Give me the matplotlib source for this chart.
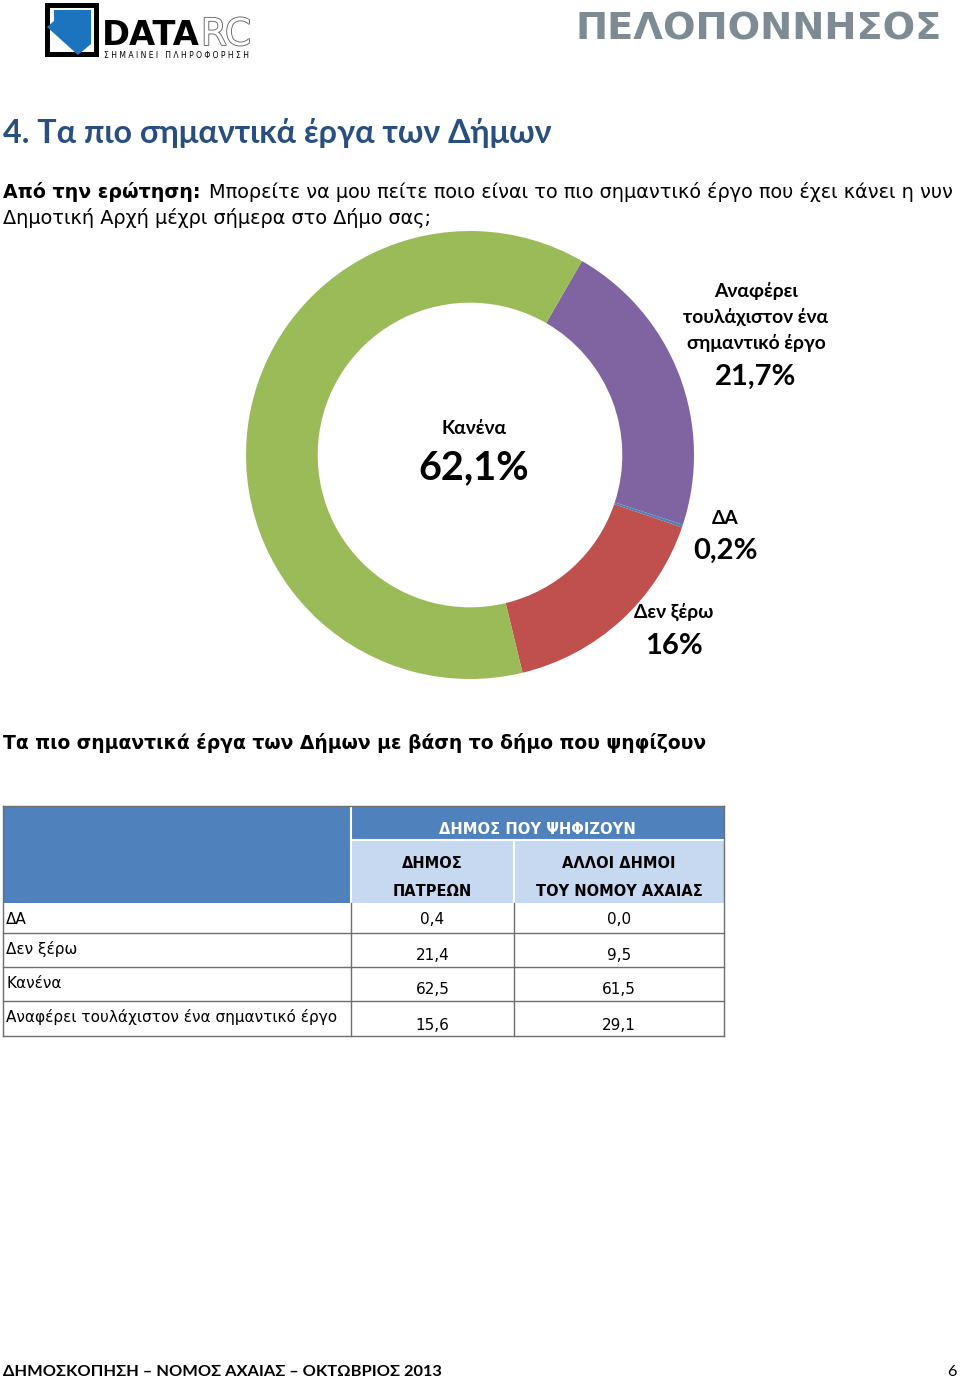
import matplotlib
matplotlib.use("Agg")
import matplotlib.pyplot as plt
import matplotlib.patheffects as pe
from matplotlib.patches import Rectangle, Polygon

# ---------------- data ----------------
donut_labels = ["Αναφέρει\nτουλάχιστον ένα\nσημαντικό έργο", "ΔΑ", "Δεν ξέρω", "Κανένα"]
donut_values = [21.7, 0.2, 16.0, 62.1]
donut_texts = ["21,7%", "0,2%", "16%", "62,1%"]
donut_colors = ["#8064A2", "#4F81BD", "#C0504D", "#9BBB59"]

table_rows = ["ΔΑ", "Δεν ξέρω", "Κανένα", "Αναφέρει τουλάχιστον ένα σημαντικό έργο"]
patras = [0.4, 21.4, 62.5, 15.6]
other_dimoi = [0.0, 9.5, 61.5, 29.1]
table_group = "ΔΗΜΟΣ ΠΟΥ ΨΗΦΙΖΟΥΝ"
table_cols = ["ΔΗΜΟΣ\nΠΑΤΡΕΩΝ", "ΑΛΛΟΙ ΔΗΜΟΙ\nΤΟΥ ΝΟΜΟΥ ΑΧΑΙΑΣ"]

title = "4. Τα πιο σημαντικά έργα των Δήμων"
q_bold = "Από την ερώτηση:"
q_line1 = "Μπορείτε να μου πείτε ποιο είναι το πιο σημαντικό έργο που έχει κάνει η νυν"
q_line2 = "Δημοτική Αρχή μέχρι σήμερα στο Δήμο σας;"
section = "Τα πιο σημαντικά έργα των Δήμων με βάση το δήμο που ψηφίζουν"
footer = "ΔΗΜΟΣΚΟΠΗΣΗ – ΝΟΜΟΣ ΑΧΑΙΑΣ – ΟΚΤΩΒΡΙΟΣ 2013"
page_no = "6"

W, H = 960, 1379
fig = plt.figure(figsize=(W / 100, H / 100), dpi=100)
fig.patch.set_facecolor("white")
ax = fig.add_axes([0, 0, 1, 1])
ax.set_xlim(0, W)
ax.set_ylim(H, 0)
ax.axis("off")
renderer = fig.canvas.get_renderer()

DV = ["DejaVu Sans"]
CAL = ["Lato", "DejaVu Sans"]


def width_px(t):
    return t.get_window_extent(renderer=renderer).width


def fit(t, target):
    """Scale the font size of a text so that its rendered width matches target px."""
    for _ in range(2):
        w = width_px(t)
        if w > 0:
            t.set_fontsize(t.get_fontsize() * target / w)
    return t


# ---------------- header / logo ----------------
ax.add_patch(Rectangle((45, 3), 54, 54, facecolor="black", edgecolor="none"))
ax.add_patch(Polygon([[50, 8], [94, 8], [94, 52], [50, 52]], closed=True,
                     facecolor="white", edgecolor="none"))
ax.add_patch(Polygon([[54, 10], [91, 10], [91, 44], [78, 55], [47, 27], [54, 21]],
                     closed=True, facecolor="#1C74BF", edgecolor="none"))
t = ax.text(102, 45, "DATA", family=DV, weight="bold", fontsize=24, color="black",
            va="baseline", ha="left")
fit(t, 98)
t = ax.text(201, 45, "RC", family=DV, fontsize=24, color="white", va="baseline", ha="left",
            path_effects=[pe.withStroke(linewidth=1.3, foreground="#666666")])
fit(t, 50)
t = ax.text(104, 58, "Σ Η Μ Α Ι Ν Ε Ι   Π Λ Η Ρ Ο Φ Ο Ρ Η Σ Η", family=DV, fontsize=5,
            color="black", va="baseline", ha="left")
fit(t, 146)
t = ax.text(942, 40, "ΠΕΛΟΠΟΝΝΗΣΟΣ", family=DV, weight="bold", fontsize=28,
            color="#7E8B92", va="baseline", ha="right")
fit(t, 367)

# ---------------- titles ----------------
t = ax.text(3, 143, title, family=CAL, weight="bold", fontsize=22, color="#284F80",
            va="baseline", ha="left")
fit(t, 548)
tb = ax.text(3, 198, q_bold, family=DV, weight="bold", fontsize=12.8, color="black",
             va="baseline", ha="left")
fit(tb, 197)
fs_q = tb.get_fontsize()
tr = ax.text(209, 198, q_line1, family=DV, fontsize=fs_q, color="black",
             va="baseline", ha="left")
fit(tr, 957 - 209)
ax.text(3, 224, q_line2, family=DV, fontsize=tr.get_fontsize(), color="black",
        va="baseline", ha="left")

# ---------------- donut ----------------
cx, cy, R = 470, 455, 224
ax2 = fig.add_axes([(cx - R) / W, (H - (cy + R)) / H, 2 * R / W, 2 * R / H])
ax2.pie(donut_values, colors=donut_colors, startangle=60, counterclock=False,
        wedgeprops=dict(width=0.32, linewidth=0))
ax2.set_xlim(-1, 1)
ax2.set_ylim(-1, 1)
ax2.set_aspect("equal")
ax2.axis("off")

lab_pos = [(756, 291, 377), (725, 518, 551), (674, 612, 646), (474, 428, 468)]
for i, (lx, ly, py) in enumerate(lab_pos):
    lines = donut_labels[i].split("\n")
    for j, ln in enumerate(lines):
        ax.text(lx, ly + 26 * j, ln, family=CAL, weight="bold", fontsize=13.9,
                color="black", ha="center", va="center")
    ax.text(lx, py, donut_texts[i], family=CAL, weight="bold",
            fontsize=28.5 if i == 3 else 21, color="black", ha="center", va="center")

# ---------------- section heading ----------------
t = ax.text(3, 749, section, family=DV, weight="bold", fontsize=13.5, color="black",
            va="baseline", ha="left")
fit(t, 704)

# ---------------- table ----------------
x0, x1, x2, x3 = 3, 351, 514, 724
y_top, y_h1, y_h2 = 806, 840, 903
row_h = [30, 34, 34, 35]
blue = "#4F81BD"
light = "#C6D9F1"
ax.add_patch(Rectangle((x0, y_top), x1 - x0, y_h2 - y_top, facecolor=blue, edgecolor="none"))
ax.add_patch(Rectangle((x1, y_top), x3 - x1, y_h1 - y_top, facecolor=blue, edgecolor="none"))
ax.add_patch(Rectangle((x1, y_h1), x3 - x1, y_h2 - y_h1, facecolor=light, edgecolor="none"))
ax.plot([x1, x1], [y_top, y_h2], color="white", lw=1.5)
ax.plot([x1, x3], [y_h1, y_h1], color="white", lw=1.5)
ax.plot([x2, x2], [y_h1, y_h2], color="white", lw=1.5)
ax.text((x1 + x3) / 2, 829, table_group, family=DV, weight="bold",
        fontsize=10.6, color="white", ha="center", va="center")
for cxm, lbl in zip([(x1 + x2) / 2, (x2 + x3) / 2], table_cols):
    a, b = lbl.split("\n")
    ax.text(cxm, 864, a, family=DV, weight="bold", fontsize=10.5, color="black",
            ha="center", va="center")
    ax.text(cxm, 892, b, family=DV, weight="bold", fontsize=10.5, color="black",
            ha="center", va="center")

y = y_h2
line_c = "#6E6E6E"
for i, lbl in enumerate(table_rows):
    h = row_h[i]
    ax.text(x0 + 3, y + 16, lbl, family=DV, fontsize=10.95, color="black", ha="left",
            va="center")
    vy = y + 16 if i == 0 else y + h - 11
    ax.text((x1 + x2) / 2, vy, f"{patras[i]:.1f}".replace(".", ","), family=DV,
            fontsize=10.95, color="black", ha="center", va="center")
    ax.text((x2 + x3) / 2, vy, f"{other_dimoi[i]:.1f}".replace(".", ","), family=DV,
            fontsize=10.95, color="black", ha="center", va="center")
    y += h
    ax.plot([x0, x3], [y, y], color=line_c, lw=1)
ax.plot([x0, x0], [y_top, y], color=line_c, lw=1)
ax.plot([x3, x3], [y_top, y], color=line_c, lw=1)
ax.plot([x1, x1], [y_h2, y], color=line_c, lw=1)
ax.plot([x2, x2], [y_h2, y], color=line_c, lw=1)
ax.plot([x0, x3], [y_top, y_top], color=line_c, lw=1)

# ---------------- footer ----------------
t = ax.text(3, 1376, footer, family=CAL, weight="bold", fontsize=11.8, color="black",
            va="baseline", ha="left")
fit(t, 439)
ax.text(957, 1376, page_no, family=CAL, fontsize=t.get_fontsize(), color="black",
        va="baseline", ha="right")

fig.savefig("out.png", dpi=100, facecolor="white")
